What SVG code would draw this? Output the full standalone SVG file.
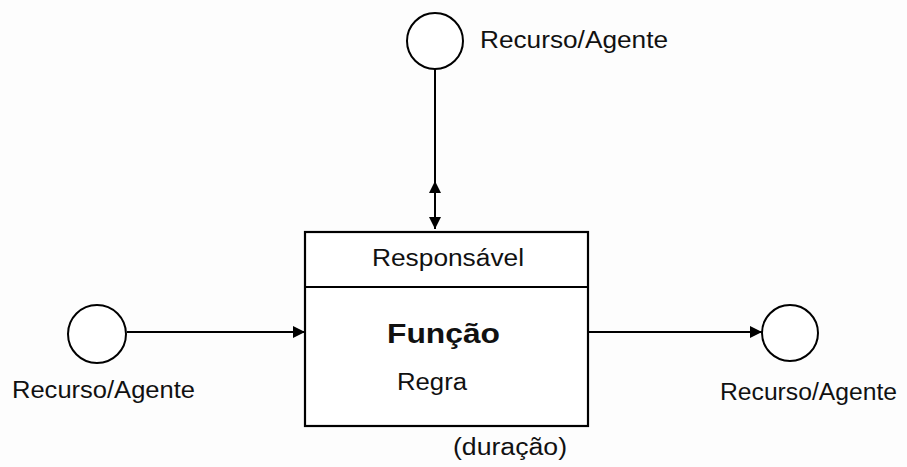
<svg xmlns="http://www.w3.org/2000/svg" width="907" height="467" viewBox="0 0 907 467">
  <style>
    .res { fill: #fff; stroke: #000; stroke-width: 2; }
    .box { fill: #fff; stroke: #000; stroke-width: 2.2; }
    .edge { fill: none; stroke: #000; stroke-width: 2; }
    text { font-family: "Liberation Sans", Arial, sans-serif; fill: #111; }
    .lbl { font-size: 23px; }
    .title { font-size: 28px; font-weight: bold; }
  </style>
  <defs>
    <marker id="arrow" markerUnits="userSpaceOnUse" markerWidth="14" markerHeight="14" viewBox="0 0 14 14" refX="13" refY="7" orient="auto-start-reverse">
      <path d="M1,1 L13,7 L1,13 Z" fill="#000"/>
    </marker>
  </defs>

  <rect width="907" height="467" fill="#fdfdfd"/>

  <g id="connectors">
    <!-- resource above: line with a two-way arrow into the box -->
    <path class="edge" d="M435,69 V181"/>
    <path class="edge" d="M435,181 V229" marker-start="url(#arrow)" marker-end="url(#arrow)"/>
    <!-- input resource to function -->
    <path class="edge" d="M127,332 H305" marker-end="url(#arrow)"/>
    <!-- function to output resource -->
    <path class="edge" d="M588,332 H762" marker-end="url(#arrow)"/>
  </g>

  <g id="recurso-topo">
    <circle class="res" cx="435" cy="41" r="28"/>
    <text class="lbl" x="480" y="48" textLength="188" lengthAdjust="spacingAndGlyphs">Recurso/Agente</text>
  </g>

  <g id="recurso-entrada">
    <circle class="res" cx="97" cy="334" r="29"/>
    <text class="lbl" x="12" y="398" textLength="183" lengthAdjust="spacingAndGlyphs">Recurso/Agente</text>
  </g>

  <g id="recurso-saida">
    <circle class="res" cx="790" cy="333" r="28"/>
    <text class="lbl" x="720" y="400" textLength="177" lengthAdjust="spacingAndGlyphs">Recurso/Agente</text>
  </g>

  <g id="funcao">
    <rect class="box" x="305" y="232" width="283" height="194"/>
    <line class="box" x1="305" y1="287" x2="588" y2="287"/>
    <text class="lbl" x="372" y="266" textLength="152" lengthAdjust="spacingAndGlyphs">Responsável</text>
    <text class="title" x="387" y="343" textLength="113" lengthAdjust="spacingAndGlyphs">Função</text>
    <text class="lbl" x="397" y="390" textLength="70" lengthAdjust="spacingAndGlyphs">Regra</text>
    <text class="lbl" x="453" y="455" textLength="114" lengthAdjust="spacingAndGlyphs">(duração)</text>
  </g>
</svg>
